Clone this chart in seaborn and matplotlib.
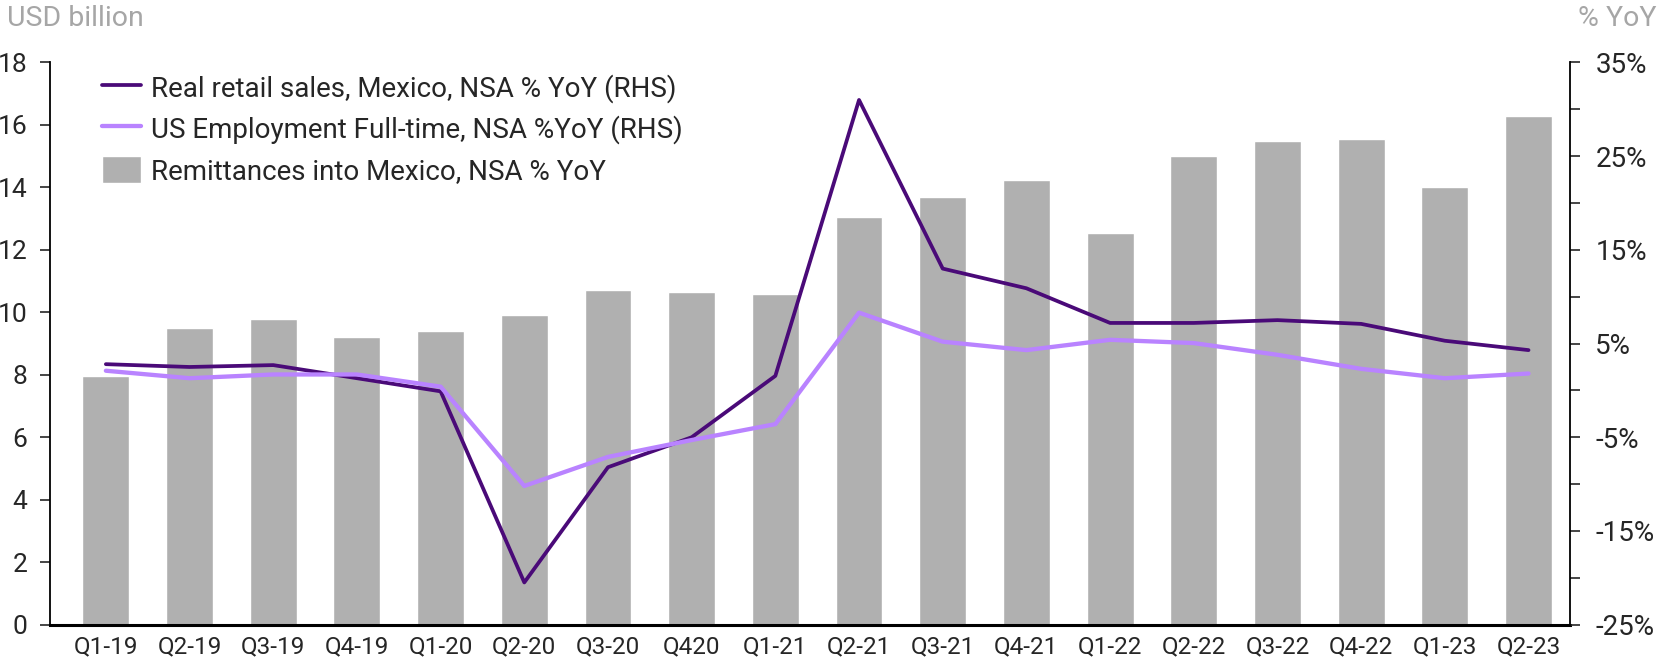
import numpy as np
import pandas as pd
import matplotlib
matplotlib.use("Agg")
import matplotlib.pyplot as plt
import seaborn as sns

# Quarter labels and series
quarters = ["Q1-19", "Q2-19", "Q3-19", "Q4-19", "Q1-20", "Q2-20", "Q3-20", "Q420", "Q1-21",
            "Q2-21", "Q3-21", "Q4-21", "Q1-22", "Q2-22", "Q3-22", "Q4-22", "Q1-23", "Q2-23"]
remittances = [7.95, 9.5, 9.8, 9.2, 9.4, 9.9, 10.7, 10.65, 10.6,
               13.05, 13.7, 14.25, 12.55, 15.0, 15.5, 15.55, 14.0, 16.3]
retail_sales = [2.8, 2.5, 2.7, 1.3, -0.1, -20.5, -8.2, -5.0, 1.55,
                31.0, 13.0, 10.9, 7.2, 7.2, 7.5, 7.1, 5.3, 4.3]
us_employment = [2.1, 1.3, 1.7, 1.7, 0.4, -10.2, -7.1, -5.3, -3.6,
                 8.3, 5.2, 4.3, 5.4, 5.05, 3.8, 2.3, 1.3, 1.8]

BAR_COLOR = "#b0b0b0"
DARK_PURPLE = "#4a0a78"
LIGHT_PURPLE = "#b983ff"
GREY_TEXT = "#a6a6a6"

sns.set_style("white")
plt.rcParams['font.family'] = ['Roboto', 'DejaVu Sans']

df = pd.DataFrame({"quarter": quarters, "remittances": remittances,
                   "retail": retail_sales, "employment": us_employment,
                   "pos": np.arange(len(quarters))})

fig = plt.figure(figsize=(16.6, 6.64), dpi=100)
ax = fig.add_axes([0.030, 0.0593, 0.916, 0.8466])

sns.barplot(data=df, x="quarter", y="remittances", color=BAR_COLOR, width=0.56,
            saturation=1, ax=ax, label="Remittances into Mexico, NSA % YoY")
ax.set_ylim(0, 18)
ax.set_yticks(range(0, 19, 2))
ax.set_xlim(-0.67, len(quarters) - 0.5)
ax.set_xlabel("")
ax.set_ylabel("")

ax2 = ax.twinx()
sns.lineplot(data=df, x="pos", y="retail", color=DARK_PURPLE, linewidth=2.7, ax=ax2,
             label="Real retail sales, Mexico, NSA % YoY (RHS)")
sns.lineplot(data=df, x="pos", y="employment", color=LIGHT_PURPLE, linewidth=3.1, ax=ax2,
             label="US Employment Full-time, NSA %YoY (RHS)")
ax2.set_ylim(-25, 35)
ax2.set_yticks(range(-25, 36, 5))
ax2.set_yticklabels([f"{v}%" if (v + 25) % 10 == 0 else "" for v in range(-25, 36, 5)])
ax2.set_xlabel("")
ax2.set_ylabel("")
ax2.set_xlim(ax.get_xlim())

for a in (ax, ax2):
    a.spines["top"].set_visible(False)
    for side in ("left", "right", "bottom"):
        a.spines[side].set_color("black")
ax.spines["right"].set_visible(False)
ax2.spines["left"].set_visible(False)
ax2.spines["bottom"].set_visible(False)
ax.spines["left"].set_linewidth(1.3)
ax2.spines["right"].set_linewidth(1.3)
ax.spines["bottom"].set_linewidth(2.2)

ax.tick_params(axis="y", direction="out", length=7, width=1.2, labelsize=19, pad=9, left=True)
ax.tick_params(axis="x", length=0, labelsize=17.5, pad=8)
ax2.tick_params(axis="y", direction="out", length=7, width=1.2, labelsize=20, pad=11, right=True)

# combined legend: lines first, then bars
h1, l1 = ax.get_legend_handles_labels()
h2, l2 = ax2.get_legend_handles_labels()
if ax.get_legend():
    ax.get_legend().remove()
ax2.legend(h2 + h1, l2 + l1, loc="upper left", bbox_to_anchor=(0.018, 1.025), frameon=False,
           fontsize=20, handlelength=1.4, handleheight=1.1, handletextpad=0.35,
           labelspacing=0.44)

fig.text(0.004, 0.972, "USD billion", color=GREY_TEXT, fontsize=20.5, ha="left", va="center")
fig.text(0.998, 0.972, "% YoY", color=GREY_TEXT, fontsize=20.5, ha="right", va="center")

fig.savefig("out.png", dpi=100)
